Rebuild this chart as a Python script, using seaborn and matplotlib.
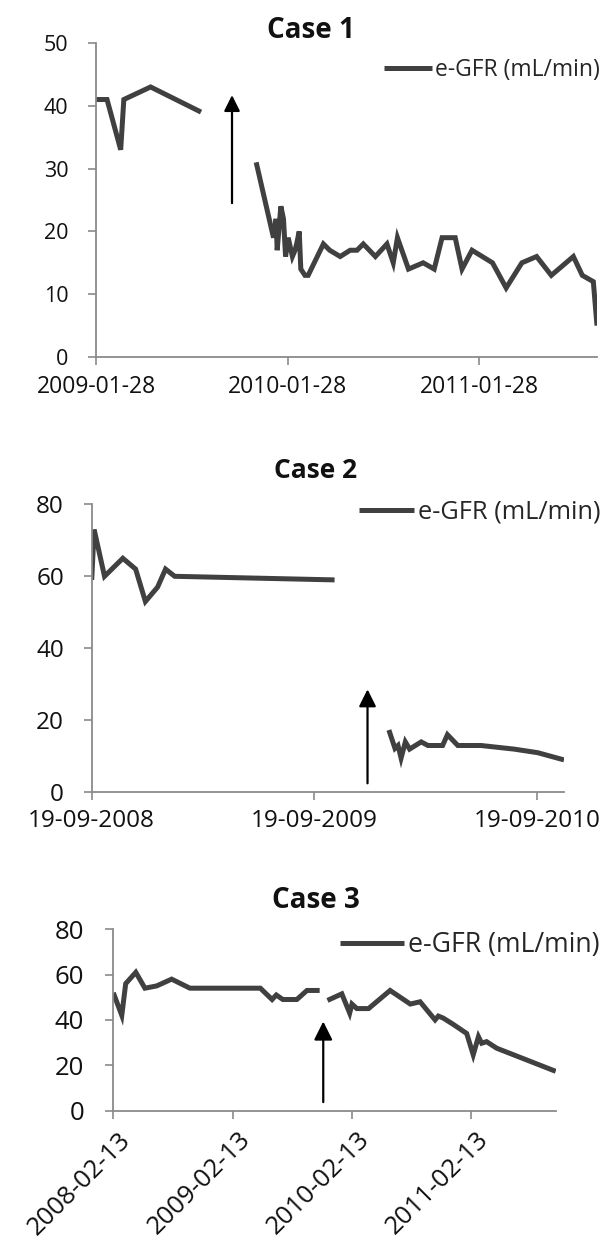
import matplotlib
matplotlib.use("Agg")
import numpy as np
import pandas as pd
import seaborn as sns
import matplotlib.pyplot as plt
import matplotlib.transforms as mtransforms
from matplotlib.lines import Line2D

sns.set_theme(style="white")
plt.rcParams["font.family"] = ["Open Sans", "DejaVu Sans"]

# ---------------- data ----------------
series_label = "e-GFR (mL/min)"

case1_dates_before = ["2009-01-28", "2009-02-18", "2009-03-16", "2009-03-22", "2009-05-12", "2009-08-16"]
case1_egfr_before = [41, 41, 33, 41, 43, 39]
case1_dates_after = ["2009-11-29", "2010-01-01", "2010-01-06", "2010-01-08", "2010-01-15", "2010-01-20",
                     "2010-01-24", "2010-01-29", "2010-02-06", "2010-02-11", "2010-02-14", "2010-02-19",
                     "2010-02-22", "2010-03-02", "2010-03-08", "2010-04-06", "2010-04-18", "2010-05-08",
                     "2010-05-27", "2010-06-09", "2010-06-21", "2010-07-14", "2010-08-05", "2010-08-17",
                     "2010-08-25", "2010-09-15", "2010-10-13", "2010-11-03", "2010-11-18", "2010-12-13",
                     "2010-12-26", "2011-01-14", "2011-02-22", "2011-03-20", "2011-04-19", "2011-05-17",
                     "2011-06-14", "2011-07-26", "2011-08-12", "2011-09-02", "2011-09-09"]
case1_egfr_after = [31, 19, 22, 17, 24, 22, 16, 19, 16, 17, 18, 20, 14, 13, 13, 18, 17, 16, 17, 17, 18,
                    16, 18, 15, 19, 14, 15, 14, 19, 19, 14, 17, 15, 11, 15, 16, 13, 16, 13, 12, 5]
case1_arrow = ("2009-10-14", 24.5, 41.7)
case1_xticks = ["2009-01-28", "2010-01-28", "2011-01-28"]
case1_xticklabels = ["2009-01-28", "2010-01-28", "2011-01-28"]
case1_yticks = [0, 10, 20, 30, 40, 50]

case2_dates_before = ["2008-09-19", "2008-09-23", "2008-10-10", "2008-11-09", "2008-11-30", "2008-12-16",
                      "2009-01-05", "2009-01-18", "2009-02-02", "2009-10-22"]
case2_egfr_before = [59, 73, 60, 65, 62, 53, 57, 62, 60, 59]
case2_dates_after = ["2010-01-19", "2010-01-29", "2010-02-03", "2010-02-08", "2010-02-15", "2010-02-22",
                     "2010-03-13", "2010-03-24", "2010-04-17", "2010-04-25", "2010-05-12", "2010-06-19",
                     "2010-08-12", "2010-09-20", "2010-11-02"]
case2_egfr_after = [17.3, 12.2, 13, 9.5, 14, 12, 14, 13, 13, 16, 13, 13, 12, 11, 9]
case2_arrow = ("2009-12-15", 2.5, 28.6)
case2_xticks = ["2008-09-19", "2009-09-19", "2010-09-19"]
case2_xticklabels = ["19-09-2008", "19-09-2009", "19-09-2010"]
case2_yticks = [0, 20, 40, 60, 80]

case3_dates_before = ["2008-02-13", "2008-03-10", "2008-03-22", "2008-04-22", "2008-05-20", "2008-06-25",
                      "2008-08-10", "2008-10-05", "2009-05-09", "2009-06-14", "2009-06-27", "2009-07-17",
                      "2009-08-29", "2009-09-29", "2009-11-07"]
case3_egfr_before = [52, 42, 56, 61, 54, 55, 58, 54, 54, 49, 51, 49, 49, 53, 53]
case3_dates_after = ["2009-12-01", "2010-01-14", "2010-02-07", "2010-02-14", "2010-03-01", "2010-04-06",
                     "2010-06-11", "2010-08-12", "2010-09-11", "2010-10-27", "2010-11-06", "2010-11-21",
                     "2010-12-22", "2011-02-01", "2011-02-21", "2011-03-09", "2011-03-19", "2011-04-03",
                     "2011-05-04", "2011-11-01"]
case3_egfr_after = [48.6, 51.5, 43, 47, 45, 45, 53, 47, 48, 40, 41.7, 40.8, 38, 34, 24.6, 32.6, 29.7,
                    30.4, 27.5, 17.3]
case3_arrow = ("2009-11-18", 3.7, 39.3)
case3_xticks = ["2008-02-13", "2009-02-13", "2010-02-13", "2011-02-13"]
case3_xticklabels = ["2008-02-13", "2009-02-13", "2010-02-13", "2011-02-13"]
case3_yticks = [0, 20, 40, 60, 80]

titles = ["Case 1", "Case 2", "Case 3"]

# ---------------- styling ----------------
W, H = 604, 1252
LINE_C = "#404040"
AX_C = "#8a8a8a"

fig = plt.figure(figsize=(W / 100, H / 100), dpi=100)
fig.patch.set_facecolor("white")


def frame(df_b, v_b, df_a, v_a):
    d = pd.DataFrame({
        "date": pd.to_datetime(list(df_b) + list(df_a)),
        "egfr": list(v_b) + list(v_a),
        "segment": ["before"] * len(df_b) + ["after"] * len(df_a),
    })
    return d


panels = [
    dict(rect=(96, 43, 597, 357), data=(case1_dates_before, case1_egfr_before, case1_dates_after, case1_egfr_after),
         arrow=case1_arrow, xt=case1_xticks, xtl=case1_xticklabels, yt=case1_yticks,
         yfs=15.5, xfs=16.5, lfs=16.5, title_xy=(311, 31), title_fs=20, leg_xy=(600, 70), hl=2.1, ms=24,
         rot=False, pad_y=14, pad_x=7),
    dict(rect=(91.7, 504.3, 564, 792.3), data=(case2_dates_before, case2_egfr_before, case2_dates_after, case2_egfr_after),
         arrow=case2_arrow, xt=case2_xticks, xtl=case2_xticklabels, yt=case2_yticks,
         yfs=17.5, xfs=17.5, lfs=18.3, title_xy=(316, 470), title_fs=19, leg_xy=(600, 512), hl=2.15, ms=26,
         rot=False, pad_y=14, pad_x=6),
    dict(rect=(113.3, 929.3, 555.7, 1110.5), data=(case3_dates_before, case3_egfr_before, case3_dates_after, case3_egfr_after),
         arrow=case3_arrow, xt=case3_xticks, xtl=case3_xticklabels, yt=case3_yticks,
         yfs=18.5, xfs=18.5, lfs=19.2, title_xy=(316, 900), title_fs=20, leg_xy=(599, 945), hl=2.4, ms=28,
         rot=True, pad_y=15, pad_x=4),
]

for title, p in zip(titles, panels):
    x0, y0, x1, y1 = p["rect"]
    ax = fig.add_axes([x0 / W, 1 - y1 / H, (x1 - x0) / W, (y1 - y0) / H])
    df = frame(*p["data"])
    sns.lineplot(data=df, x="date", y="egfr", units="segment", estimator=None,
                 color=LINE_C, linewidth=3.6, ax=ax, legend=False,
                 solid_joinstyle="miter", solid_capstyle="butt")
    xt = pd.to_datetime(p["xt"])
    ax.set_xlim(df["date"].min(), df["date"].max())
    ax.set_ylim(p["yt"][0], p["yt"][-1])
    ax.set_yticks(p["yt"])
    ax.set_yticklabels([str(v) for v in p["yt"]])
    ax.set_xticks(xt)
    ax.set_xticklabels(p["xtl"])
    ax.set_xlabel("")
    ax.set_ylabel("")
    ax.set_facecolor("white")
    for s in ["top", "right"]:
        ax.spines[s].set_visible(False)
    for s in ["left", "bottom"]:
        ax.spines[s].set_color(AX_C)
        ax.spines[s].set_linewidth(1.3)
    ax.tick_params(axis="both", which="both", direction="out", length=6, width=1.2,
                   color=AX_C, labelcolor="#111111", bottom=True, left=True)
    ax.tick_params(axis="y", pad=p["pad_y"], labelsize=p["yfs"])
    ax.tick_params(axis="x", pad=p["pad_x"], labelsize=p["xfs"])
    ax.grid(False)
    if p["rot"]:
        offset = mtransforms.ScaledTranslation(5 / 100, -3 / 100, fig.dpi_scale_trans)
        for lab in ax.get_xticklabels():
            lab.set_rotation(45)
            lab.set_ha("right")
            lab.set_va("top")
            lab.set_rotation_mode("anchor")
            lab.set_transform(lab.get_transform() + offset)

    ad, ab, at = p["arrow"]
    ax.annotate("", xy=(pd.Timestamp(ad), at), xytext=(pd.Timestamp(ad), ab),
                arrowprops=dict(arrowstyle="-|>", color="black", lw=1.6,
                                mutation_scale=p["ms"], shrinkA=0, shrinkB=0),
                annotation_clip=False)

    handle = Line2D([], [], color=LINE_C, linewidth=3.6, solid_capstyle="butt")
    lx, ly = p["leg_xy"]
    ax.legend(handles=[handle], labels=[series_label], loc="center right",
              bbox_to_anchor=(lx / W, 1 - ly / H), bbox_transform=fig.transFigure,
              frameon=False, fontsize=p["lfs"], handlelength=p["hl"], handletextpad=0.15,
              borderpad=0, borderaxespad=0)

    tx, ty = p["title_xy"]
    fig.text(tx / W, 1 - ty / H, title, ha="center", va="center",
             fontsize=p["title_fs"], fontweight="bold", color="#111111")

fig.savefig("out.png", dpi=100, facecolor="white")
